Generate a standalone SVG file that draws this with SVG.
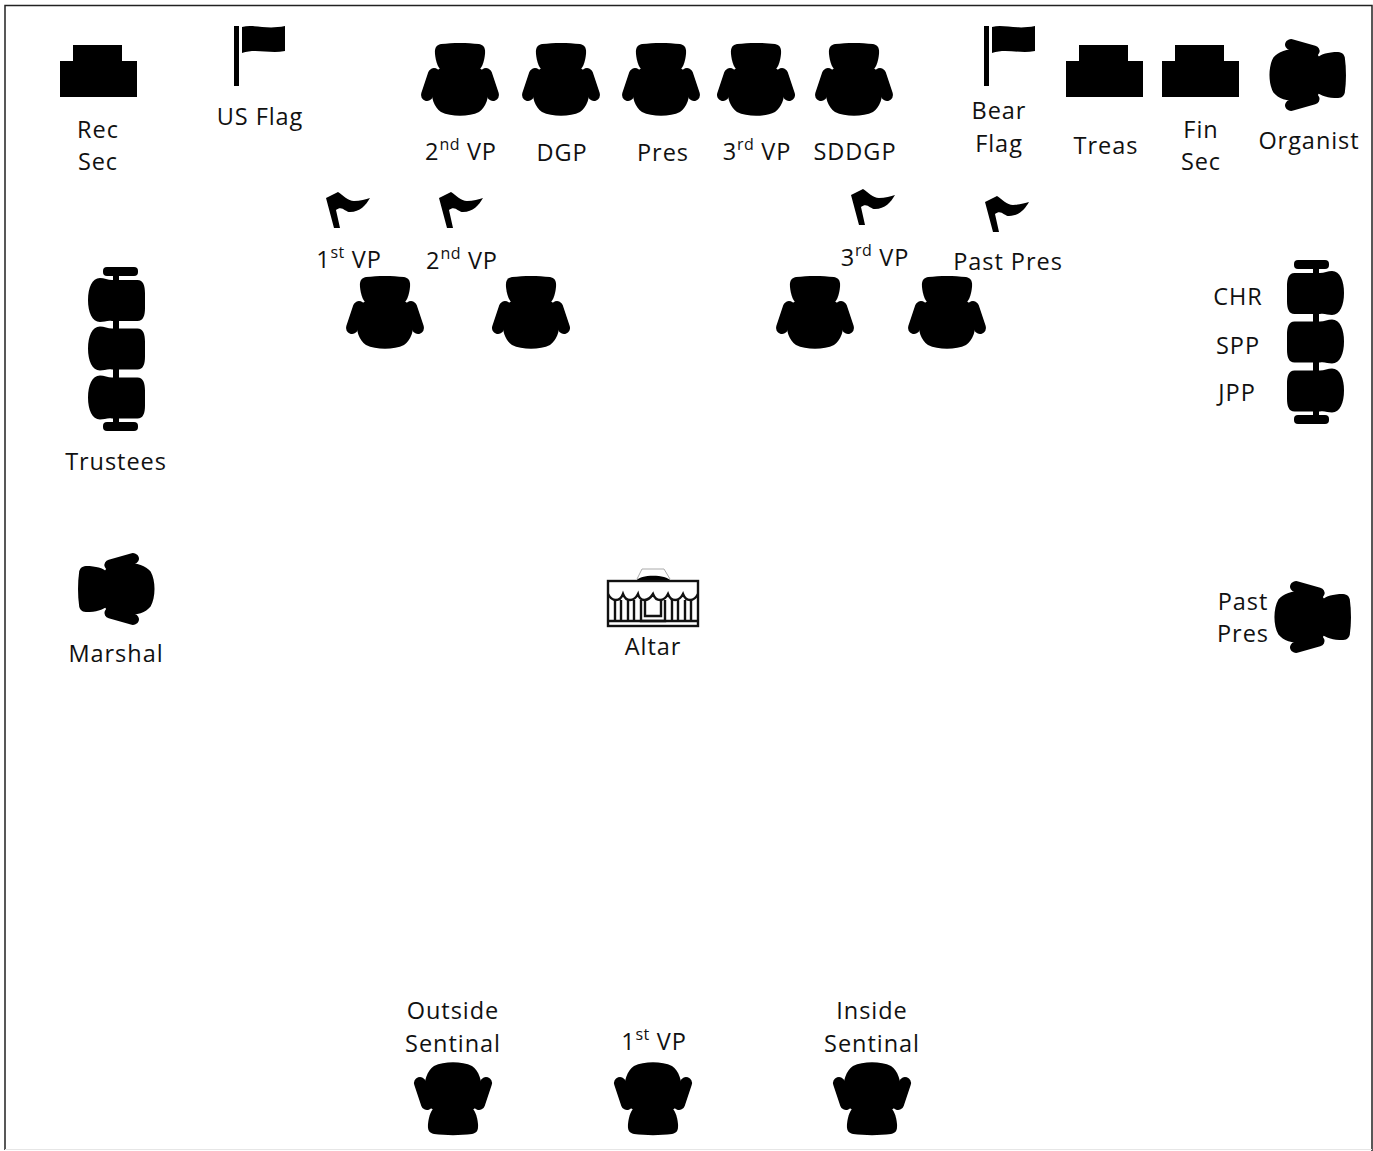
<svg xmlns="http://www.w3.org/2000/svg" xmlns:xlink="http://www.w3.org/1999/xlink" width="1373" height="1151" viewBox="0 0 1373 1151">
<style>
text{font-family:"Open Sans","Noto Sans","Liberation Sans",sans-serif;font-size:23.5px;fill:#111;text-anchor:middle;letter-spacing:.95px}
.s{font-size:16px;letter-spacing:.4px}
.a{fill:none;stroke:#111;stroke-width:2.4}
</style>
<defs>
<g id="chair">
<path d="M-19-36C-7-37.500 7-37.500 19-36C24-35 25.500-32 25-26C24-17 22-12 17-8L-17-8C-22-12-24-17-25-26C-25.500-32-24-35-19-36Z"/>
<path d="M-16-13C-5-11 5-11 16-13C24-11 28-5 28.500 6C29 18 26 27 19 32C9 37-9 37-19 32C-26 27-29 18-28.500 6C-28-5-24-11-16-13Z"/>
<path d="M-26-6L-33 15M26-6L33 15" stroke="#000" stroke-width="12" stroke-linecap="round" fill="none"/>
</g>
<path id="desk" d="M0 16H13V0H62V16H77V52H0Z"/>
<g id="flag"><rect x="0" y="0" width="5" height="60"/><path d="M8 1C20-2 32 4 51 0V25C35 28 22 22 8 27Z"/></g>
<path id="pennant" d="M0 6L12 0C17 3 22 9 28 9C34 9 40 7 44 6C40 13 34 20 24 20C19 20 16 13 10 18L14 36H8Z"/>
<g id="bench-body">
<path d="M12-22C16-22 20-20 24-20H48C55-21 57-15 57-7V8C57 16 55 22 48 21H24C20 20 16 22 12 22C4 22 0 12 0 0C0-12 4-22 12-22Z"/>
</g>
<g id="bench">
<use href="#bench-body" x="88" y="300"/>
<use href="#bench-body" x="88" y="348.500"/>
<use href="#bench-body" x="88" y="397.500"/>
<rect x="113" y="270" width="6" height="156"/>
<rect x="103" y="267" width="35" height="9" rx="4"/>
<rect x="103" y="422" width="35" height="9" rx="4"/>
</g>
</defs>
<rect width="1373" height="1151" fill="#fff"/>
<path d="M5 1150V5.500H1372V1151" fill="none" stroke="#222" stroke-width="1.500"/>
<path d="M5 1149.500H1372" stroke="#e6e6e6" stroke-width="1"/>
<g id="connectors"/>

<g id="rec-sec"><use href="#desk" x="60" y="45"/><text x="98" y="138">Rec</text><text x="98" y="170">Sec</text></g>
<g id="us-flag"><use href="#flag" x="234" y="26"/><text x="260" y="125">US Flag</text></g>
<g id="vp2-top"><use href="#chair" x="460" y="80"/><text x="461" y="160">2<tspan class="s" dy="-10">nd</tspan><tspan dy="10"> VP</tspan></text></g>
<g id="dgp"><use href="#chair" x="561" y="80"/><text x="562" y="161">DGP</text></g>
<g id="pres"><use href="#chair" x="661" y="80"/><text x="663" y="161">Pres</text></g>
<g id="vp3-top"><use href="#chair" x="756" y="80"/><text x="757" y="160">3<tspan class="s" dy="-10">rd</tspan><tspan dy="10"> VP</tspan></text></g>
<g id="sddgp"><use href="#chair" x="854" y="80"/><text x="855" y="160">SDDGP</text></g>
<g id="bear-flag"><use href="#flag" x="984" y="26"/><text x="999" y="119">Bear</text><text x="999" y="152">Flag</text></g>
<g id="treas"><use href="#desk" x="1066" y="45"/><text x="1106" y="154">Treas</text></g>
<g id="fin-sec"><use href="#desk" x="1162" y="45"/><text x="1201" y="138">Fin</text><text x="1201" y="170">Sec</text></g>
<g id="organist"><use href="#chair" transform="translate(1307 75) rotate(90) scale(.92 1.05)"/><text x="1309" y="149">Organist</text></g>

<g id="vp1-row"><use href="#pennant" x="326" y="192"/><text x="349" y="268">1<tspan class="s" dy="-10">st</tspan><tspan dy="10"> VP</tspan></text><use href="#chair" x="385" y="313"/></g>
<g id="vp2-row"><use href="#pennant" x="439" y="192"/><text x="462" y="269">2<tspan class="s" dy="-10">nd</tspan><tspan dy="10"> VP</tspan></text><use href="#chair" x="531" y="313"/></g>
<g id="vp3-row"><use href="#pennant" x="851" y="189"/><text x="875" y="266">3<tspan class="s" dy="-10">rd</tspan><tspan dy="10"> VP</tspan></text><use href="#chair" x="815" y="313"/></g>
<g id="past-pres-row"><use href="#pennant" x="985" y="196"/><text x="1008" y="270">Past Pres</text><use href="#chair" x="947" y="313"/></g>

<g id="trustees"><use href="#bench"/><text x="116" y="470">Trustees</text></g>
<g id="marshal"><use href="#chair" transform="translate(117 589) rotate(-90) scale(.92 1.05)"/><text x="116" y="662">Marshal</text></g>

<g id="chr-spp-jpp"><use href="#bench" transform="translate(1432 -7) scale(-1 1)"/><text x="1238" y="305">CHR</text><text x="1238" y="354">SPP</text><text x="1237" y="401">JPP</text></g>
<g id="past-pres-right"><use href="#chair" transform="translate(1312 617) rotate(90) scale(.92 1.05)"/><text x="1243" y="610">Past</text><text x="1243" y="642">Pres</text></g>

<g id="altar">
<path d="M637 579L642 569H664L670 579" fill="none" stroke="#aaa" stroke-width="1"/>
<path d="M636 581C640 574 666 574 671 581Z"/>
<rect class="a" x="608" y="581" width="90" height="45"/>
<path class="a" d="M608 594C612 602 620 602 623 594C626 602 634 602 638 594C640 602 648 602 653 594C656 602 664 602 668 594C671 602 679 602 683 594C686 602 694 602 698 594"/>
<path class="a" stroke-width="3" d="M608 621H698"/>
<path class="a" d="M615 600V621M621 600V621M628 600V621M634 600V621M672 600V621M678 600V621M685 600V621M691 600V621M641 600V621H665V600M645 601V616H661V601"/>
<text x="653" y="655">Altar</text>
</g>

<g id="outside-sentinal"><text x="453" y="1019">Outside</text><text x="453" y="1052">Sentinal</text><use href="#chair" transform="translate(453 1098) rotate(180)"/></g>
<g id="vp1-bottom"><text x="654" y="1050">1<tspan class="s" dy="-10">st</tspan><tspan dy="10"> VP</tspan></text><use href="#chair" transform="translate(653 1098) rotate(180)"/></g>
<g id="inside-sentinal"><text x="872" y="1019">Inside</text><text x="872" y="1052">Sentinal</text><use href="#chair" transform="translate(872 1098) rotate(180)"/></g>
</svg>
